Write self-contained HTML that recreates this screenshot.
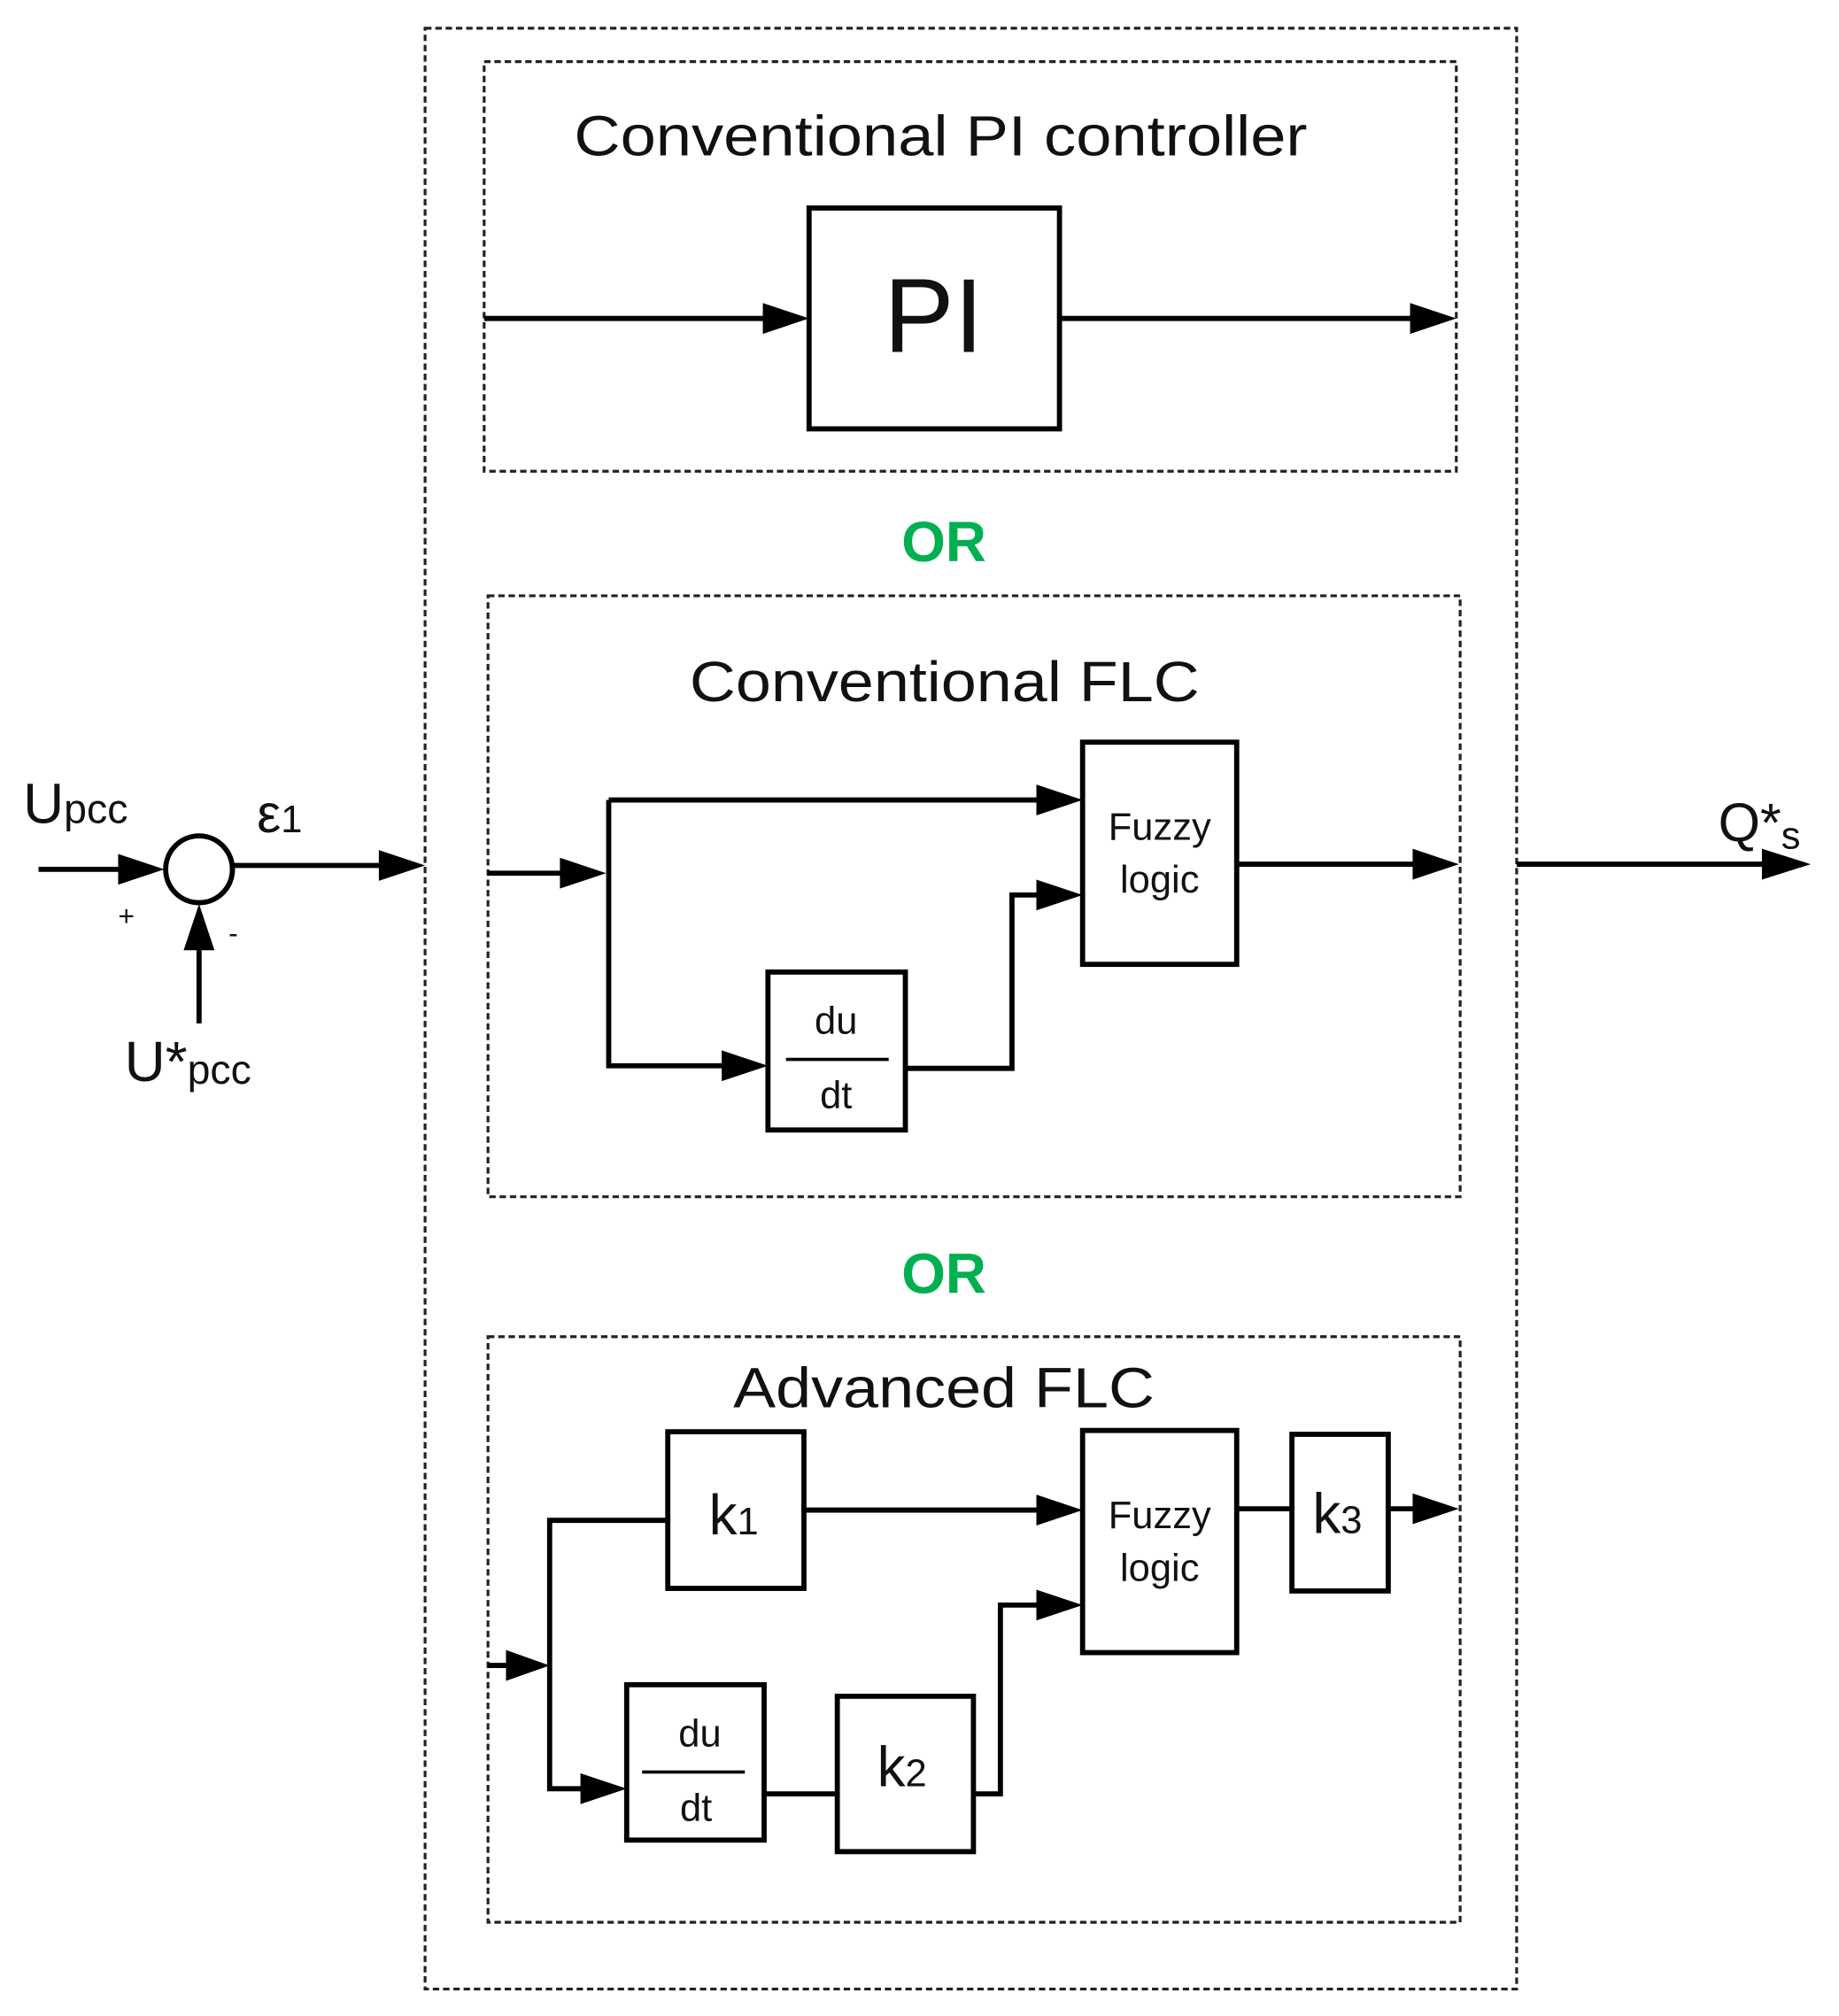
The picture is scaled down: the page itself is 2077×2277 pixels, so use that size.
<!DOCTYPE html>
<html><head><meta charset="utf-8"><style>
html,body{margin:0;padding:0;background:#fff}
svg{display:block}
text{font-family:"Liberation Sans",Arial,sans-serif;fill:#111}
</style></head><body>
<svg width="2077" height="2277" viewBox="0 0 1432 1570" preserveAspectRatio="none" xmlns="http://www.w3.org/2000/svg">
<g fill="none" stroke="#222" stroke-width="2.2" stroke-dasharray="5,3">
<rect x="331" y="22" width="850" height="1527"/>
<rect x="377" y="48" width="757" height="319"/>
<rect x="380" y="464" width="757" height="468"/>
<rect x="380" y="1041" width="757" height="456"/>
</g>
<g fill="none" stroke="#000" stroke-width="4">
<rect x="630" y="162" width="195" height="172"/>
<rect x="843" y="578" width="120" height="173"/>
<rect x="598" y="757" width="107" height="123"/>
<rect x="520" y="1115" width="106" height="122"/>
<rect x="843" y="1114" width="120" height="173"/>
<rect x="1006" y="1117" width="75" height="122"/>
<rect x="488" y="1312" width="107" height="121"/>
<rect x="652" y="1321" width="106" height="121"/>
<circle cx="155" cy="677" r="26"/>
<line x1="377" y1="248" x2="600" y2="248"/>
<line x1="825" y1="248" x2="1100" y2="248"/>
<line x1="380" y1="680" x2="442" y2="680"/>
<polyline points="474,623 474,830 568,830"/>
<line x1="474" y1="623" x2="813" y2="623"/>
<polyline points="705,832 788,832 788,697 813,697"/>
<line x1="963" y1="673" x2="1103" y2="673"/>
<line x1="380" y1="1297" x2="400" y2="1297"/>
<polyline points="520,1184 428,1184 428,1393 458,1393"/>
<line x1="626" y1="1176" x2="813" y2="1176"/>
<line x1="963" y1="1175" x2="1006" y2="1175"/>
<line x1="1081" y1="1175" x2="1103" y2="1175"/>
<line x1="595" y1="1397" x2="652" y2="1397"/>
<polyline points="758,1397 779,1397 779,1250 813,1250"/>
<line x1="30" y1="677" x2="98" y2="677"/>
<line x1="181" y1="674" x2="298" y2="674"/>
<line x1="155" y1="797" x2="155" y2="735"/>
<line x1="1181" y1="673" x2="1378" y2="673"/>
</g>
<g fill="#000" stroke="none">
<polygon points="630,248 594,236 594,260"/>
<polygon points="1134,248 1098,236 1098,260"/>
<polygon points="472,680 436,668 436,692"/>
<polygon points="843,623 807,611 807,635"/>
<polygon points="598,830 562,818 562,842"/>
<polygon points="843,697 807,685 807,709"/>
<polygon points="1136,673 1100,661 1100,685"/>
<polygon points="428,1297 394,1285 394,1309"/>
<polygon points="843,1176 807,1164 807,1188"/>
<polygon points="1136,1175 1100,1163 1100,1187"/>
<polygon points="488,1393 452,1381 452,1405"/>
<polygon points="843,1250 807,1238 807,1262"/>
<polygon points="128,677 92,665 92,689"/>
<polygon points="331,674 295,662 295,686"/>
<polygon points="155,704 143,740 167,740"/>
<polygon points="1410,673 1372,661 1372,685"/>
</g>
<g stroke="#000" stroke-width="2.5">
<line x1="612" y1="825" x2="692" y2="825"/>
<line x1="500" y1="1380" x2="580" y2="1380"/>
</g>
<text x="447" y="121" font-size="44" textLength="571" lengthAdjust="spacingAndGlyphs">Conventional PI controller</text>
<text x="727" y="274" font-size="82" text-anchor="middle">PI</text>
<text x="735" y="437" font-size="44" font-weight="bold" text-anchor="middle" style="fill:#00b050">OR</text>
<text x="537" y="546" font-size="44" textLength="397" lengthAdjust="spacingAndGlyphs">Conventional FLC</text>
<text x="903" y="654" font-size="30" text-anchor="middle">Fuzzy</text>
<text x="903" y="695" font-size="30" text-anchor="middle">logic</text>
<text x="651" y="805" font-size="30" text-anchor="middle">du</text>
<text x="651" y="863" font-size="30" text-anchor="middle">dt</text>
<text x="735" y="1007" font-size="44" font-weight="bold" text-anchor="middle" style="fill:#00b050">OR</text>
<text x="571" y="1096" font-size="44" textLength="328" lengthAdjust="spacingAndGlyphs">Advanced FLC</text>
<text x="552" y="1195" font-size="44">k<tspan font-size="30">1</tspan></text>
<text x="903" y="1190" font-size="30" text-anchor="middle">Fuzzy</text>
<text x="903" y="1231" font-size="30" text-anchor="middle">logic</text>
<text x="1022" y="1194" font-size="44">k<tspan font-size="30">3</tspan></text>
<text x="545" y="1360" font-size="30" text-anchor="middle">du</text>
<text x="542" y="1418" font-size="30" text-anchor="middle">dt</text>
<text x="683" y="1391" font-size="44">k<tspan font-size="30">2</tspan></text>
<text x="18" y="641" font-size="44">U<tspan font-size="32">pcc</tspan></text>
<text x="200" y="648" font-size="42">ε<tspan font-size="30">1</tspan></text>
<text x="92" y="721" font-size="22">+</text>
<text x="178" y="734" font-size="22">-</text>
<text x="97" y="842" font-size="44">U*<tspan font-size="32" dy="2">pcc</tspan></text>
<text x="1338" y="655" font-size="42">Q*<tspan font-size="30" dy="6">s</tspan></text>
</svg>
</body></html>
